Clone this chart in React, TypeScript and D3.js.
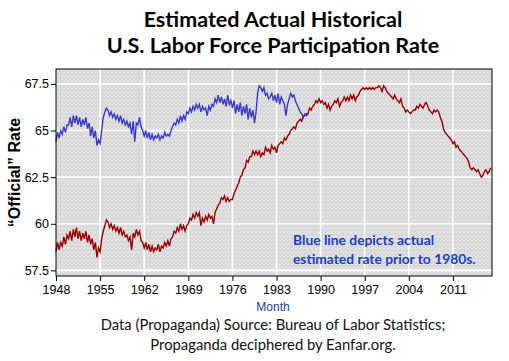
import { useEffect, useRef } from "react";
import * as d3 from "d3";

// quarterly readings, first value = Q1 of the start year
const officialStart = 1948;
const officialRate = [
  58.5, 59.0, 58.6, 59.0, 58.8, 59.3, 58.9, 59.4, 59.2, 59.6, 59.1, 59.7,
  59.3, 59.8, 59.2, 59.6, 59.1, 59.5, 59.2, 59.6, 59.0, 59.4, 58.9, 59.2,
  58.6, 59.0, 58.2, 58.7, 58.5, 59.2, 59.6, 59.9, 60.2, 60.1, 59.8, 60.0,
  59.7, 59.9, 59.6, 59.8, 59.5, 59.8, 59.4, 59.6, 59.3, 59.4, 59.1, 59.3,
  58.6, 59.5, 59.3, 59.7, 59.4, 59.6, 59.1, 59.0, 58.7, 59.0, 58.6, 58.9,
  58.5, 58.8, 58.5, 58.7, 58.6, 58.9, 58.5, 58.8, 58.7, 59.0, 58.8, 59.1,
  58.8, 59.2, 59.3, 59.6, 59.5, 59.8, 59.6, 60.0, 59.7, 59.9, 59.6, 59.9,
  60.0, 60.3, 60.2, 60.5, 60.3, 60.6, 60.4, 60.6, 59.9, 60.3, 60.1, 60.4,
  60.2, 60.5, 60.3, 60.4, 60.0, 60.6, 60.8, 61.0, 61.1, 61.4, 61.3, 61.5,
  61.2, 61.4, 61.2, 61.3, 61.3, 61.6, 61.8, 62.0, 62.2, 62.5, 62.6, 62.9,
  63.0, 63.4, 63.3, 63.6, 63.6, 63.9, 63.7, 63.9, 63.7, 63.9, 63.6, 63.8,
  63.7, 64.1, 63.9, 64.0, 63.8, 64.2, 64.0, 64.1, 63.8, 64.2, 64.3, 64.4,
  64.3, 64.6, 64.5, 64.7, 64.8, 65.0, 65.1, 65.2, 65.1, 65.4, 65.5, 65.6,
  65.5, 65.8, 65.8, 65.9, 65.9, 66.2, 66.1, 66.3, 66.4, 66.6, 66.5, 66.7,
  66.5, 66.6, 66.4, 66.5, 66.2, 66.4, 66.1, 66.3, 66.4, 66.6, 66.5, 66.7,
  66.3, 66.5, 66.6, 66.8, 66.6, 66.8, 66.6, 66.9, 66.7, 66.9, 66.6, 66.8,
  66.9, 67.1, 67.2, 67.3, 67.2, 67.3, 67.2, 67.3, 67.2, 67.3, 67.2, 67.3,
  67.3, 67.4, 67.3, 67.1, 67.4, 67.3, 67.1, 67.0, 66.9, 66.8, 66.7, 66.9,
  66.7, 66.6, 66.5, 66.7, 66.3, 66.2, 66.0, 66.1, 66.0, 65.9, 66.0, 66.1,
  66.1, 66.3, 66.2, 66.4, 66.3, 66.2, 66.4, 66.5, 66.3, 66.1, 66.0, 65.9,
  66.1, 66.0, 66.1, 66.0, 65.7, 65.5, 65.1, 64.9, 64.8, 64.7, 64.6, 64.5,
  64.3, 64.4, 64.1, 64.2, 64.0, 63.9, 63.8, 63.7, 63.6, 63.5, 63.3, 63.0,
  62.9, 63.0, 62.9, 62.8, 62.9, 62.7, 62.5, 62.6, 62.8, 62.9, 62.7, 62.8,
  63.0,
];

const estimatedStart = 1948;
const estimatedRate = [
  64.4, 64.9, 64.6, 65.0, 64.8, 65.2, 64.9, 65.3, 65.3, 65.7, 65.2, 65.8,
  65.4, 65.8, 65.3, 65.7, 65.2, 65.6, 65.3, 65.7, 65.1, 65.4, 64.7, 65.2,
  64.6, 65.0, 64.2, 64.5, 64.3, 65.0, 65.7, 66.0, 66.2, 66.1, 65.8, 66.0,
  65.7, 65.9, 65.6, 65.8, 65.5, 65.8, 65.4, 65.6, 65.3, 65.5, 65.2, 65.4,
  64.8, 65.5, 64.4, 65.4, 65.3, 65.7, 65.2, 65.0, 64.7, 65.0, 64.6, 64.9,
  64.5, 64.8, 64.5, 64.7, 64.6, 64.8, 64.5, 64.7, 64.6, 64.9, 64.7, 64.8,
  64.7, 65.0, 65.2, 65.4, 65.3, 65.6, 65.4, 65.8, 65.5, 65.8, 65.6, 66.0,
  65.9, 66.2, 66.0, 66.3, 66.1, 66.4, 66.2, 66.4, 66.0, 66.3, 66.1, 66.2,
  65.8, 66.3, 66.1, 66.4, 66.3, 66.7, 66.5, 66.9, 66.5, 66.8, 66.4, 66.7,
  66.3, 66.9, 66.4, 66.6, 66.2, 66.6, 65.9, 66.4, 66.0, 66.5, 65.8, 66.3,
  65.9, 66.4, 65.6, 66.2, 65.7, 66.1, 65.4, 66.0, 67.0, 67.4, 67.3, 67.1,
  67.3, 66.9, 67.0, 66.7, 66.8, 67.0, 66.6, 66.9, 66.5, 67.0, 66.4, 66.8,
  66.6, 66.4, 65.8, 66.4, 66.7, 67.0, 66.8, 66.9, 66.6, 66.4, 66.2, 66.0,
  65.9, 65.7, 65.9, 65.8, 65.9,
];

const yearTicks = [1948, 1955, 1962, 1969, 1976, 1983, 1990, 1997, 2004, 2011];
const rateTicks = [57.5, 60, 62.5, 65, 67.5];

const titleLines = ["Estimated Actual Historical", "U.S. Labor Force Participation Rate"];
const noteLines = ["Blue line depicts actual", "estimated rate prior to 1980s."];
const sourceLines = [
  "Data (Propaganda) Source: Bureau of Labor Statistics;",
  "Propaganda deciphered by Eanfar.org.",
];

export default function App() {
  const ref = useRef<SVGSVGElement>(null);

  useEffect(() => {
    if (!ref.current) return;
    const svg = d3.select(ref.current);
    svg.selectAll("*").remove();

    const width = 509;
    const height = 361;
    const m = { top: 69, right: 17, bottom: 85, left: 56 };
    const x0 = m.left, x1 = width - m.right, y0 = m.top, y1 = height - m.bottom;

    const x = d3.scaleLinear().domain([1948, 2017.2]).range([x0, x1]);
    const y = d3.scaleLinear().domain([57.2, 68.3]).range([y1, y0]);

    svg.append("rect").attr("width", width).attr("height", height).attr("fill", "#fff");

    // dithered plot background
    const defs = svg.append("defs");
    const pat = defs.append("pattern")
      .attr("id", "speckle")
      .attr("width", 4).attr("height", 4)
      .attr("patternUnits", "userSpaceOnUse");
    pat.append("rect").attr("width", 4).attr("height", 4).attr("fill", "#d6d6d6");
    const dots = [
      [0, 0, "#ece2ea"], [2, 1, "#d8deee"], [1, 3, "#f2f2f2"],
      [3, 2, "#e6dadf"], [1, 1, "#dde6dd"], [3, 0, "#eeeeee"],
    ];
    dots.forEach(([dx, dy, c]) =>
      pat.append("rect").attr("x", dx).attr("y", dy).attr("width", 1).attr("height", 1).attr("fill", c as string));

    svg.append("rect")
      .attr("x", x0).attr("y", y0)
      .attr("width", x1 - x0).attr("height", y1 - y0)
      .attr("fill", "url(#speckle)");

    // grid
    svg.append("g")
      .selectAll("line")
      .data(yearTicks.slice(1))
      .join("line")
      .attr("x1", d => x(d)).attr("x2", d => x(d))
      .attr("y1", y0).attr("y2", y1)
      .attr("stroke", "#fff").attr("stroke-width", 1.6);
    svg.append("g")
      .selectAll("line")
      .data(rateTicks)
      .join("line")
      .attr("x1", x0).attr("x2", x1)
      .attr("y1", d => y(d)).attr("y2", d => y(d))
      .attr("stroke", "#fff").attr("stroke-width", 1.6);

    const line = (start: number) =>
      d3.line<number>()
        .x((_, i) => x(start + i / 4))
        .y(d => y(d));

    svg.append("path")
      .datum(officialRate)
      .attr("d", line(officialStart))
      .attr("fill", "none")
      .attr("stroke", "#9a0000")
      .attr("stroke-width", 1.4);

    svg.append("path")
      .datum(estimatedRate)
      .attr("d", line(estimatedStart))
      .attr("fill", "none")
      .attr("stroke", "#3a3ac8")
      .attr("stroke-width", 1.4);

    // frame
    svg.append("rect")
      .attr("x", x0).attr("y", y0)
      .attr("width", x1 - x0).attr("height", y1 - y0)
      .attr("fill", "none").attr("stroke", "#000").attr("stroke-width", 1);

    // axes
    const tickFont = "'Liberation Sans', Arial, sans-serif";
    const xAxis = svg.append("g")
      .attr("transform", `translate(0,${y1})`)
      .call(d3.axisBottom(x).tickValues(yearTicks).tickFormat(d3.format("d")).tickSize(5).tickPadding(4));
    const yAxis = svg.append("g")
      .attr("transform", `translate(${x0},0)`)
      .call(d3.axisLeft(y).tickValues(rateTicks).tickFormat(d => String(d)).tickSize(5).tickPadding(2));
    [xAxis, yAxis].forEach(a => {
      a.select(".domain").remove();
      a.selectAll("line").attr("stroke", "#000");
      a.selectAll("text").attr("font-family", tickFont).attr("font-size", 12.5).attr("fill", "#000");
    });

    // title
    svg.append("g")
      .selectAll("text")
      .data(titleLines)
      .join("text")
      .attr("x", 273).attr("y", (_, i) => 27 + i * 26)
      .attr("text-anchor", "middle")
      .attr("font-family", "Lato, sans-serif")
      .attr("font-weight", "bold")
      .attr("font-size", 21.5)
      .attr("fill", "#000")
      .text(d => d);

    // y label
    svg.append("text")
      .attr("transform", `translate(20,${(y0 + y1) / 2}) rotate(-90)`)
      .attr("text-anchor", "middle")
      .attr("font-family", tickFont)
      .attr("font-weight", "bold")
      .attr("font-size", 16)
      .attr("fill", "#000")
      .text("\u201COfficial\u201D Rate");

    // x label
    svg.append("text")
      .attr("x", 273).attr("y", 311)
      .attr("text-anchor", "middle")
      .attr("font-family", tickFont)
      .attr("font-size", 12)
      .attr("fill", "#1f3c9c")
      .text("Month");

    // annotation
    svg.append("g")
      .selectAll("text")
      .data(noteLines)
      .join("text")
      .attr("x", 293).attr("y", (_, i) => 245 + i * 19)
      .attr("font-family", "Lato, sans-serif")
      .attr("font-weight", "bold")
      .attr("font-size", 13.8)
      .attr("fill", "#1a40cc")
      .text(d => d);

    // source
    svg.append("g")
      .selectAll("text")
      .data(sourceLines)
      .join("text")
      .attr("x", 273).attr("y", (_, i) => 330 + i * 20)
      .attr("text-anchor", "middle")
      .attr("font-family", "Lato, sans-serif")
      .attr("font-size", 14.8)
      .attr("fill", "#111")
      .text(d => d);
  }, []);

  return (
    <svg
      ref={ref}
      width={509}
      height={361}
      style={{ position: "absolute", left: 0, top: 0, display: "block" }}
    />
  );
}
